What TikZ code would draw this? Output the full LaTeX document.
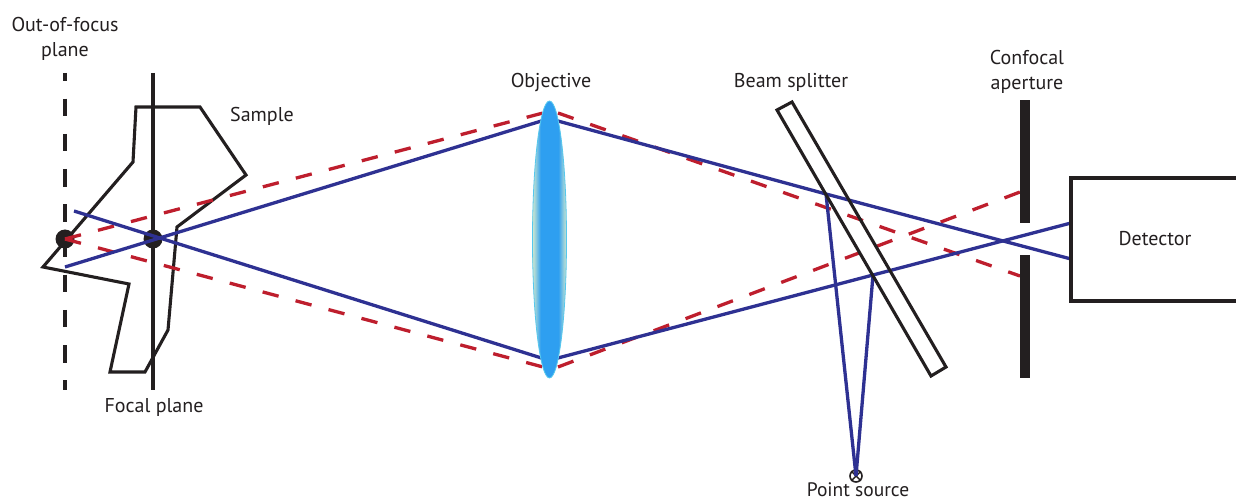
\documentclass[tikz,border=0pt]{standalone}
\usepackage{fontspec}
\setmainfont{PT Sans}
\definecolor{rayblue}{HTML}{2E3192}
\definecolor{rayred}{HTML}{BE1E2D}
\definecolor{ink}{HTML}{231F20}
\definecolor{lensblue}{HTML}{2E9FF0}
\definecolor{lenspale}{HTML}{CFE8CF}
\definecolor{lensedge}{HTML}{55C8EE}
\pgfdeclarehorizontalshading{lensshade}{100bp}{
  color(0bp)=(lenspale); color(25bp)=(lenspale); color(30bp)=(lenspale!60!lensblue); color(37bp)=(lensblue);
  color(63bp)=(lensblue); color(70bp)=(lenspale!60!lensblue); color(75bp)=(lenspale); color(100bp)=(lenspale)}
\tikzset{
  label text/.style={font=\fontsize{20}{25}\selectfont, text=ink, inner sep=0pt, align=center},
  inkline/.style={draw=ink, line width=3.1pt},
  blueray/.style={draw=rayblue, line width=3.3pt},
  redray/.style={draw=rayred, line width=3.3pt, dash pattern=on 16.5pt off 17.6pt},
  focus dot/.style={circle, fill=ink, inner sep=0pt, minimum size=19pt},
}
\begin{document}
\begin{tikzpicture}[x=1pt,y=-1pt]
\useasboundingbox (0,0) rectangle (1236,502);
\fill[white] (0,0) rectangle (1236,502);
% planes
\coordinate (oftop) at (65,73); \coordinate (ofbot) at (65,390);
\coordinate (fptop) at (153,73); \coordinate (fpbot) at (153,390);
\draw[inkline, dash pattern=on 17.6pt off 17.6pt, dash phase=9.6pt] (oftop) -- (ofbot);
% sample
\draw[inkline, line join=miter] (136,107) -- (200,107) -- (246,175) -- (177,227) -- (168,330) -- (145,372)
  -- (110,372) -- (129,284) -- (43,267) -- (133,162) -- cycle;
\draw[inkline] (fptop) -- (fpbot);
% dots
\node[focus dot] (outdot) at (65,239) {};
\node[focus dot] (focdot) at (153,239) {};
% ray points
\coordinate (bstart1) at (65,267);
\coordinate (bstart2) at (74,211);
\coordinate (lensTL) at (543,120.5);
\coordinate (lensBL) at (543,358.5);
\coordinate (lensTR) at (556,120.5);
\coordinate (lensBR) at (556,358.5);
\coordinate (split1) at (826,194);
\coordinate (split2) at (873,275);
\coordinate (det1) at (1071,259);
\coordinate (det2) at (1071,223);
\coordinate (rTL) at (543,113);
\coordinate (rBL) at (543,367);
\coordinate (rTR) at (558,113);
\coordinate (rBR) at (558,367);
\coordinate (ap1) at (1020,276);
\coordinate (ap2) at (1020,192);
\node[circle, draw=ink, line width=1.6pt, minimum size=12pt, inner sep=0pt] (src) at (856,476) {};
\draw[ink, line width=1.4pt] (src.north west) -- (src.south east) (src.north east) -- (src.south west);
% red rays
\draw[redray] (outdot.center) -- (rTL);
\draw[redray] (outdot.center) -- (rBL);
\draw[redray] (rTR) -- (ap1);
\draw[redray] (rBR) -- (ap2);
% blue rays
\draw[blueray] (bstart1) -- (lensTL);
\draw[blueray] (bstart2) -- (lensBL);
\draw[blueray] (lensTR) -- (split1) -- (det1);
\draw[blueray] (lensBR) -- (split2) -- (det2);
\draw[blueray] (split1) -- (src.center);
\draw[blueray] (split2) -- (src.center);
% lens
\path[draw=lensedge, line width=0.8pt, shading=lensshade] (549.5,239.5) ellipse [x radius=17, y radius=138.5];
\node[inner sep=0pt, minimum size=0pt] (lens) at (549.5,239.5) {};
% beam splitter
\draw[inkline, line join=miter] (777,110) -- (792,102) -- (946,367) -- (931,376) -- cycle;
% aperture
\fill[ink] (1020,100) rectangle (1030,223);
\fill[ink] (1020,255) rectangle (1030,378);
% detector
\draw[inkline] (1241,178) -- (1071,178) -- (1071,301) -- (1241,301);
% labels
\node[label text] (l1) at (65,38.5) {Out-of-focus\\plane};
\node[label text] (l2) at (262,116) {Sample};
\node[label text] (l3) at (551,82.5) {Objective};
\node[label text] (l4) at (791,82) {Beam splitter};
\node[label text] (l5) at (1027,71.5) {Confocal\\aperture};
\node[label text] (l6) at (1155,238.5) {Detector};
\node[label text] (l7) at (154,407) {Focal plane};
\node[font=\fontsize{19.5}{25}\selectfont, text=ink, inner sep=0pt, anchor=base] (l8) at (858,496.5) {Point source};
\end{tikzpicture}
\end{document}
